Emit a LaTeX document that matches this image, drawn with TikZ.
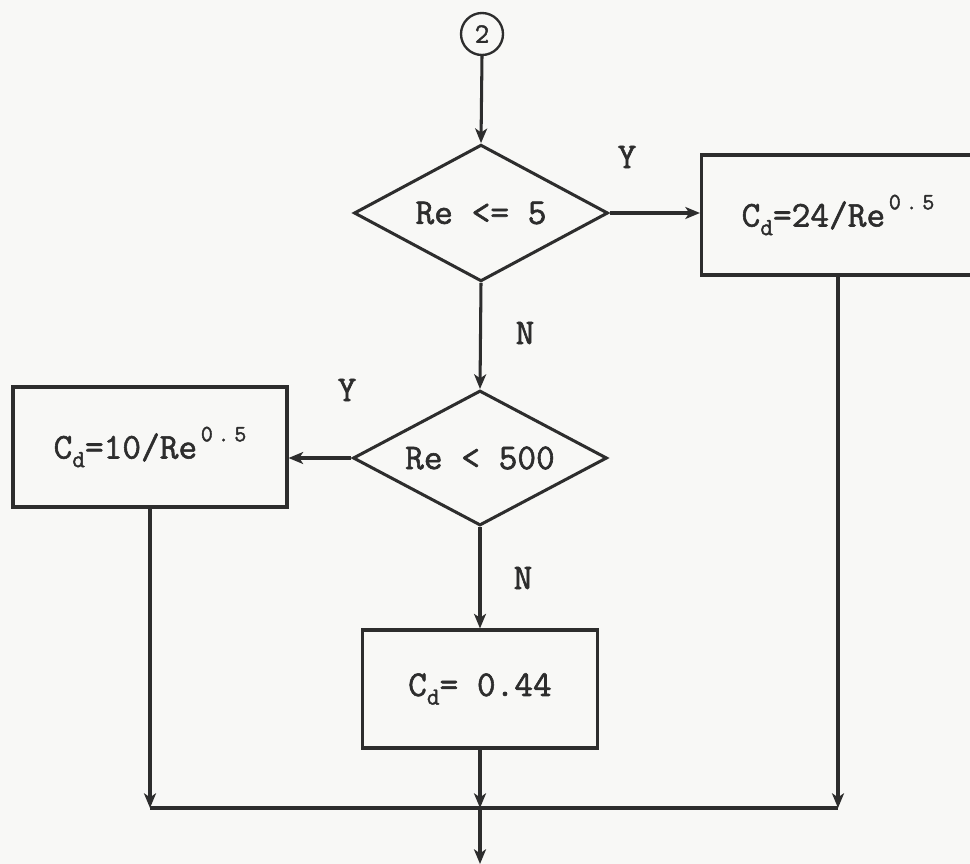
\documentclass[tikz,border=0pt]{standalone}
\usepackage{fontspec}
\usetikzlibrary{arrows.meta,shapes.geometric}
\definecolor{ink}{RGB}{45,45,45}
\definecolor{paper}{RGB}{248,248,246}
\newfontfamily\typefont[FakeBold=1.6]{Latin Modern Mono}
\newcommand{\chartfont}{\typefont\fontsize{31}{36}\selectfont}
\newcommand{\cd}{C\raisebox{-0.55ex}{\fontsize{21}{21}\selectfont d}}
\newcommand{\halfpow}{\hspace{0.1em}\raisebox{1.1ex}{\fontsize{20}{20}\selectfont 0\hspace{0.2em}.\hspace{0.2em}5}}
\tikzset{
  >={Stealth[length=4.4mm,width=3.6mm,inset=1.2mm]},
  box/.style={draw=ink,line width=2.6pt,rectangle,minimum width=#1,minimum height=3.6cm,
    inner sep=0pt,font=\chartfont,text=ink},
  box/.default=8.2cm,
  decision/.style={draw=ink,line width=2.6pt,diamond,aspect=1.83,inner sep=0pt,
    minimum width=7.62cm,minimum height=4.1cm,font=\chartfont,text=ink},
  station/.style={circle,draw=ink,line width=2pt,minimum size=1.26cm,inner sep=0pt,
    font=\typefont\fontsize{24}{26}\selectfont,text=ink},
  flow/.style={->,line width=2.6pt,draw=ink},
  tag/.style={font=\chartfont,text=ink},
}

\begin{document}
\begin{tikzpicture}[x=0.03cm,y=-0.03cm]
  \fill[paper] (0,0) rectangle (970,864);
  \useasboundingbox (0,0) rectangle (970,864);
  % connector and tests
  \node[station] (c2) at (482,34) {2};
  \node[decision] (d1) at (481,213) {Re <= 5};
  \node[decision,minimum height=4.05cm] (d2) at (480,458) {Re < 500};
  % results
  \node[box=8.19cm] (b1) at (838,215) {\cd=24/Re\halfpow};
  \node[box=8.22cm] (b2) at (150,447) {\cd=10/Re\halfpow};
  \node[box=7.05cm,minimum height=3.54cm] (b3) at (480,689) {\cd= 0.44};
  % labels
  \node[tag] (y1) at (627,157) {Y};
  \node[tag] (n1) at (525,333) {N};
  \node[tag] (y2) at (347,390) {Y};
  \node[tag] (n2) at (523,578) {N};
  % joins
  \coordinate (jl) at (150,808);
  \coordinate (jc) at (480,808);
  \coordinate (jr) at (838,808);
  \coordinate (out) at (480,864);
  \draw[flow] (c2.south) -- (d1.north);
  \draw[flow] (d1.east) -- (b1.west |- d1.east);
  \draw[flow] (d1.south) -- (d2.north);
  \draw[flow] (d2.west) -- (b2.east |- d2.west);
  \draw[flow] (d2.south) -- (b3.north);
  \draw[flow] (b2.south) -- (jl);
  \draw[flow] (b1.south) -- (jr);
  \draw[line width=2.6pt,ink] (jl) -- (jr);
  \draw[flow] (b3.south) -- (jc);
  \draw[flow] (jc) -- (out);
\end{tikzpicture}
\end{document}
